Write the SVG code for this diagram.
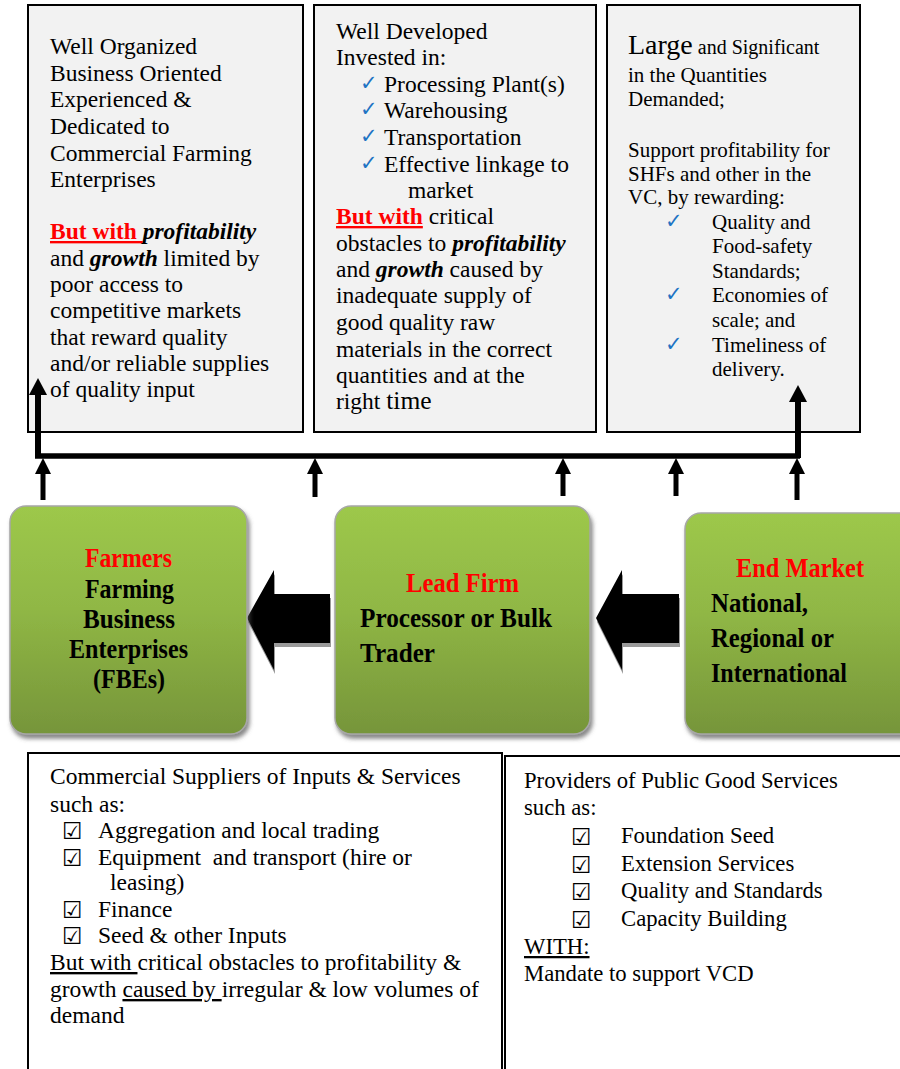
<svg xmlns="http://www.w3.org/2000/svg" width="900" height="1069" viewBox="0 0 900 1069">
<defs>
<linearGradient id="gr" x1="0" y1="0" x2="0" y2="1">
<stop offset="0" stop-color="#9dc84b"/>
<stop offset="0.45" stop-color="#90b745"/>
<stop offset="1" stop-color="#76953a"/>
</linearGradient>
<filter id="sh" x="-10%" y="-10%" width="125%" height="125%">
<feDropShadow dx="2" dy="4" stdDeviation="2" flood-color="#555" flood-opacity="0.7"/>
</filter>
<style>
.box{fill:#f2f2f2;stroke:#000;stroke-width:2}
.wbox{fill:#fff;stroke:#000;stroke-width:2}
.gbox{fill:url(#gr);stroke:#a7a7a7;stroke-width:1.5;filter:url(#sh)}
.t{font-family:"Liberation Serif",serif;font-size:23.5px;fill:#000}
.t3{font-family:"Liberation Serif",serif;font-size:21px;fill:#000}
.t5{font-family:"Liberation Serif",serif;font-size:22.7px;fill:#000}
.g{font-family:"Liberation Serif",serif;font-size:27px;font-weight:bold;fill:#000}
.red{fill:#ff0000}
.rb{fill:#ff0000;font-weight:bold;text-decoration:underline}
.bi{font-weight:bold;font-style:italic}
.u{text-decoration:underline}
.ck{font-family:"DejaVu Sans",sans-serif;font-size:21px;fill:#1f74c4}
.cb{font-family:"DejaVu Sans",sans-serif;font-size:23px;fill:#000}
.ln{stroke:#000;fill:none}
.ah{fill:#000}
.big{fill:#000}
.bigsh{fill:#9a9a9a}
</style>
</defs>

<g id="box-farmers-desc">
<rect class="box" x="28" y="5" width="275" height="427"/>
<text class="t" x="50" y="54">Well Organized</text>
<text class="t" x="50" y="81">Business Oriented</text>
<text class="t" x="50" y="107">Experienced &amp;</text>
<text class="t" x="50" y="134">Dedicated to</text>
<text class="t" x="50" y="161">Commercial Farming</text>
<text class="t" x="50" y="187">Enterprises</text>
<text class="t" x="50" y="239"><tspan class="rb">But with </tspan><tspan class="bi">profitability</tspan></text>
<text class="t" x="50" y="266">and <tspan class="bi">growth</tspan> limited by</text>
<text class="t" x="50" y="292">poor access to</text>
<text class="t" x="50" y="318">competitive markets</text>
<text class="t" x="50" y="345">that reward quality</text>
<text class="t" x="50" y="371">and/or reliable supplies</text>
<text class="t" x="50" y="397">of quality input</text>
</g>

<g id="box-leadfirm-desc">
<rect class="box" x="314" y="5" width="282" height="427"/>
<text class="t" x="336" y="39">Well Developed</text>
<text class="t" x="336" y="65">Invested in:</text>
<text class="ck" x="360" y="90">✓</text>
<text class="t" x="384" y="92">Processing Plant(s)</text>
<text class="ck" x="360" y="116">✓</text>
<text class="t" x="384" y="118">Warehousing</text>
<text class="ck" x="360" y="143">✓</text>
<text class="t" x="384" y="145">Transportation</text>
<text class="ck" x="360" y="170">✓</text>
<text class="t" x="384" y="172">Effective linkage to</text>
<text class="t" x="408" y="198">market</text>
<text class="t" x="336" y="224"><tspan class="rb">But with</tspan> critical</text>
<text class="t" x="336" y="251">obstacles to <tspan class="bi">profitability</tspan></text>
<text class="t" x="336" y="277">and <tspan class="bi">growth</tspan> caused by</text>
<text class="t" x="336" y="303">inadequate supply of</text>
<text class="t" x="336" y="330">good quality raw</text>
<text class="t" x="336" y="357">materials in the correct</text>
<text class="t" x="336" y="383">quantities and at the</text>
<text class="t" x="336" y="409">right <tspan font-size="25.5">time</tspan></text>
</g>

<g id="box-endmarket-desc">
<rect class="box" x="607" y="5" width="253" height="427"/>
<text class="t3" x="628" y="54"><tspan font-size="28">Large</tspan><tspan font-size="20"> and Significant</tspan></text>
<text class="t3" x="628" y="82">in the Quantities</text>
<text class="t3" x="628" y="106">Demanded;</text>
<text class="t3" x="628" y="157">Support profitability for</text>
<text class="t3" x="628" y="181">SHFs and other in the</text>
<text class="t3" x="628" y="204">VC, by rewarding:</text>
<text class="ck" x="665" y="228">✓</text>
<text class="t3" x="712" y="229">Quality and</text>
<text class="t3" x="712" y="253">Food-safety</text>
<text class="t3" x="712" y="278">Standards;</text>
<text class="ck" x="665" y="301">✓</text>
<text class="t3" x="712" y="302">Economies of</text>
<text class="t3" x="712" y="327">scale; and</text>
<text class="ck" x="665" y="351">✓</text>
<text class="t3" x="712" y="352">Timeliness of</text>
<text class="t3" x="712" y="376">delivery.</text>
</g>

<g id="connectors">
<line class="ln" x1="35" y1="456" x2="800" y2="456" stroke-width="5.5"/>
<line class="ln" x1="38" y1="458" x2="38" y2="392" stroke-width="6"/>
<polygon class="ah" points="38,378 29,395 47,395"/>
<line class="ln" x1="798" y1="458" x2="798" y2="399" stroke-width="6"/>
<polygon class="ah" points="798,385 789,402 807,402"/>
<line class="ln" x1="43" y1="500" x2="43" y2="472" stroke-width="5"/>
<polygon class="ah" points="43,458 35,474 51,474"/>
<line class="ln" x1="315" y1="497" x2="315" y2="472" stroke-width="5"/>
<polygon class="ah" points="315,458 307,474 323,474"/>
<line class="ln" x1="563" y1="496" x2="563" y2="472" stroke-width="5"/>
<polygon class="ah" points="563,458 555,474 571,474"/>
<line class="ln" x1="676" y1="496" x2="676" y2="472" stroke-width="5"/>
<polygon class="ah" points="676,458 668,474 684,474"/>
<line class="ln" x1="797" y1="500" x2="797" y2="472" stroke-width="5"/>
<polygon class="ah" points="797,458 789,474 805,474"/>
<polygon class="bigsh" points="331,598 275,598 275,574 248,622 275,674 275,647 331,647"/>
<polygon class="big" points="330,594 274,594 274,570 247,618 274,670 274,643 330,643"/>
<polygon class="bigsh" points="680,598 623,598 623,574 597,622 623,674 623,647 680,647"/>
<polygon class="big" points="679,594 622,594 622,570 596,618 622,670 622,643 679,643"/>
</g>

<g id="node-farmers">
<rect class="gbox" x="10" y="506" width="237" height="228" rx="16"/>
<text class="g red" x="85" y="567" textLength="87" lengthAdjust="spacingAndGlyphs">Farmers</text>
<text class="g" x="85" y="598" textLength="89" lengthAdjust="spacingAndGlyphs">Farming</text>
<text class="g" x="83" y="628" textLength="92" lengthAdjust="spacingAndGlyphs">Business</text>
<text class="g" x="69" y="658" textLength="119" lengthAdjust="spacingAndGlyphs">Enterprises</text>
<text class="g" x="93" y="688" textLength="72" lengthAdjust="spacingAndGlyphs">(FBEs)</text>
</g>

<g id="node-leadfirm">
<rect class="gbox" x="335" y="506" width="255" height="228" rx="16"/>
<text class="g red" x="406" y="592" textLength="113" lengthAdjust="spacingAndGlyphs">Lead Firm</text>
<text class="g" x="360" y="627" textLength="192" lengthAdjust="spacingAndGlyphs">Processor or Bulk</text>
<text class="g" x="360" y="662" textLength="75" lengthAdjust="spacingAndGlyphs">Trader</text>
</g>

<g id="node-endmarket">
<rect class="gbox" x="685" y="513" width="240" height="221" rx="16"/>
<text class="g red" x="736" y="577" textLength="128" lengthAdjust="spacingAndGlyphs">End Market</text>
<text class="g" x="711" y="612" textLength="97" lengthAdjust="spacingAndGlyphs">National,</text>
<text class="g" x="711" y="647" textLength="123" lengthAdjust="spacingAndGlyphs">Regional or</text>
<text class="g" x="711" y="682" textLength="136" lengthAdjust="spacingAndGlyphs">International</text>
</g>

<g id="box-commercial-suppliers">
<rect class="wbox" x="28" y="753" width="474" height="330"/>
<text class="t" x="50" y="784">Commercial Suppliers of Inputs &amp; Services</text>
<text class="t" x="50" y="812">such as:</text>
<text class="cb" x="62" y="839">☑</text>
<text class="t" x="98" y="838">Aggregation and local trading</text>
<text class="cb" x="62" y="866">☑</text>
<text class="t" x="98" y="865">Equipment&#160; and transport (hire or</text>
<text class="t" x="110" y="890">leasing)</text>
<text class="cb" x="62" y="918">☑</text>
<text class="t" x="98" y="917">Finance</text>
<text class="cb" x="62" y="944">☑</text>
<text class="t" x="98" y="943">Seed &amp; other Inputs</text>
<text class="t" x="50" y="970"><tspan class="u">But with </tspan>critical obstacles to profitability &amp;</text>
<text class="t" x="50" y="997">growth <tspan class="u">caused by </tspan>irregular &amp; low volumes of</text>
<text class="t" x="50" y="1023">demand</text>
</g>

<g id="box-public-good">
<rect class="wbox" x="505" y="756" width="420" height="330" stroke-width="2.5"/>
<text class="t5" x="524" y="788">Providers of Public Good Services</text>
<text class="t5" x="524" y="815">such as:</text>
<text class="cb" x="571" y="845" font-size="26">☑</text>
<text class="t5" x="621" y="843">Foundation Seed</text>
<text class="cb" x="571" y="873" font-size="26">☑</text>
<text class="t5" x="621" y="871">Extension Services</text>
<text class="cb" x="571" y="900" font-size="26">☑</text>
<text class="t5" x="621" y="898">Quality and Standards</text>
<text class="cb" x="571" y="928" font-size="26">☑</text>
<text class="t5" x="621" y="926">Capacity Building</text>
<text class="t5" x="524" y="954"><tspan class="u">WITH:</tspan></text>
<text class="t5" x="524" y="981">Mandate to support VCD</text>
</g>
</svg>
